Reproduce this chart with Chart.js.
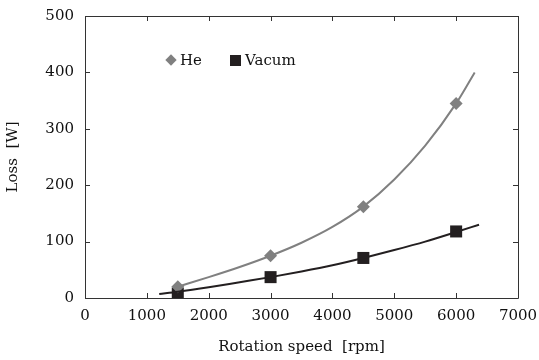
<!DOCTYPE html>
<html>
<head>
<meta charset="utf-8">
<script src="https://cdn.jsdelivr.net/npm/chart.js@4/dist/chart.umd.min.js"></script>
<style>
  html, body { margin: 0; padding: 0; background: #fff; }
  #wrap { position: relative; width: 539px; height: 360px; }
  #legend { position: absolute; left: 0; top: 0; font-family: "DejaVu Serif", serif; font-size: 15px; color: #111; }
  .item { position: absolute; top: 51px; line-height: 18px; white-space: nowrap; }
  .dia { display: inline-block; width: 8px; height: 8px; background: #808080; transform: rotate(45deg); margin-right: 5px; vertical-align: 1px; }
  .sq { display: inline-block; width: 11px; height: 11px; background: #231f20; margin-right: 4px; vertical-align: -1px; }
</style>
</head>
<body>
<div id="wrap">
  <canvas id="c" width="539" height="360"></canvas>
  <div id="legend">
    <div class="item" style="left:167px"><span class="dia"></span>He</div>
    <div class="item" style="left:230px"><span class="sq"></span>Vacum</div>
  </div>
</div>
<script>
// Measured points
const speeds = [1500, 3000, 4500, 6000];
const heLoss = [20, 75, 162, 345];
const vacLoss = [8, 37, 71, 118];
// Trend curves
const heCurveX = [1500, 2000, 2500, 3000, 3500, 4000, 4500, 5000, 5500, 6000, 6300];
const heCurveY = [20, 37, 55, 75, 98, 126, 162, 210, 270, 345, 400];
const vacCurveX = [1200, 1500, 2000, 2500, 3000, 3500, 4000, 4500, 5000, 5500, 6000, 6370];
const vacCurveY = [7, 11, 19, 28, 37, 47, 58, 71, 85, 100, 117, 130];
const xTicks = [0, 1000, 2000, 3000, 4000, 5000, 6000, 7000];
const yTicks = [0, 100, 200, 300, 400, 500];

const toPts = (xs, ys) => xs.map((x, i) => ({x: x, y: ys[i]}));
const GRAY = '#808080', BLACK = '#231f20';
const FONT = {family: '"DejaVu Serif", serif', size: 15};
const TXT = '#111';

const framePlugin = {
  id: 'frame',
  afterDraw(chart) {
    const {ctx, chartArea: a, scales} = chart;
    ctx.save();
    ctx.strokeStyle = '#333';
    ctx.lineWidth = 1;
    ctx.beginPath();
    ctx.rect(Math.round(a.left) + 0.5, Math.round(a.top) + 0.5, Math.round(a.right - a.left), Math.round(a.bottom - a.top));
    ctx.stroke();
    const L = 5;
    ctx.beginPath();
    xTicks.forEach(v => {
      const px = Math.round(scales.x.getPixelForValue(v)) + 0.5;
      ctx.moveTo(px, a.bottom); ctx.lineTo(px, a.bottom - L);
      ctx.moveTo(px, a.top); ctx.lineTo(px, a.top + L);
    });
    yTicks.forEach(v => {
      const py = Math.round(scales.y.getPixelForValue(v)) + 0.5;
      ctx.moveTo(a.left, py); ctx.lineTo(a.left + L, py);
      ctx.moveTo(a.right, py); ctx.lineTo(a.right - L, py);
    });
    ctx.stroke();
    ctx.restore();
  }
};

new Chart(document.getElementById('c'), {
  type: 'scatter',
  data: {
    datasets: [
      {label: 'He trend', data: toPts(heCurveX, heCurveY), showLine: true, borderColor: GRAY, borderWidth: 2, pointRadius: 0, cubicInterpolationMode: 'monotone', fill: false},
      {label: 'Vacum trend', data: toPts(vacCurveX, vacCurveY), showLine: true, borderColor: BLACK, borderWidth: 2, pointRadius: 0, cubicInterpolationMode: 'monotone', fill: false},
      {label: 'He', data: toPts(speeds, heLoss), pointStyle: 'rectRot', pointRadius: 6.5, backgroundColor: GRAY, borderColor: GRAY, borderWidth: 0},
      {label: 'Vacum', data: toPts(speeds, vacLoss), pointStyle: 'rect', pointRadius: 8.5, backgroundColor: BLACK, borderColor: BLACK, borderWidth: 0}
    ]
  },
  options: {
    responsive: false,
    animation: false,
    layout: {padding: {left: 0, right: 21, top: 16, bottom: 0}},
    plugins: {legend: {display: false}, tooltip: {enabled: false}},
    scales: {
      x: {
        type: 'linear', min: 0, max: 7000,
        afterBuildTicks: s => { s.ticks = xTicks.map(v => ({value: v})); },
        afterFit: s => { s.height = 62; s.paddingLeft = 0; s.paddingRight = 0; },
        grid: {display: false, drawTicks: false},
        border: {display: false},
        ticks: {font: FONT, color: TXT, padding: 9, maxRotation: 0, callback: v => String(v)},
        title: {display: true, text: 'Rotation speed  [rpm]', font: FONT, color: TXT, padding: {top: 4, bottom: 4}}
      },
      y: {
        type: 'linear', min: 0, max: 500,
        afterBuildTicks: s => { s.ticks = yTicks.map(v => ({value: v})); },
        afterFit: s => { s.width = 85; s.paddingTop = 0; s.paddingBottom = 0; },
        grid: {display: false, drawTicks: false},
        border: {display: false},
        ticks: {font: FONT, color: TXT, padding: 11, callback: v => String(v)},
        title: {display: true, text: 'Loss  [W]', font: FONT, color: TXT, padding: {top: 4, bottom: 4}}
      }
    }
  },
  plugins: [framePlugin]
});
</script>
</body>
</html>
